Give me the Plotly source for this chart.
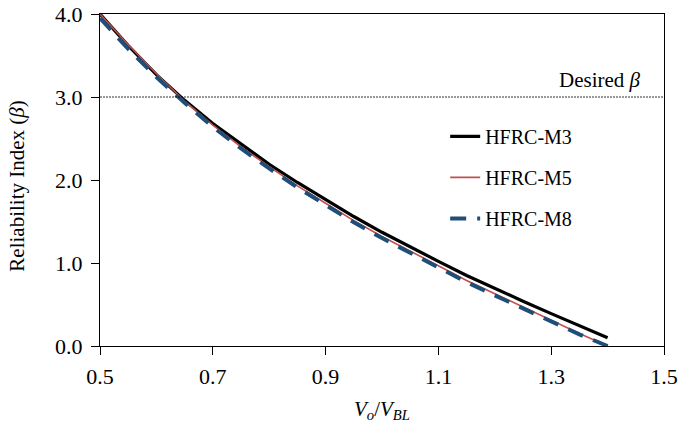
import plotly.graph_objects as go

x = [0.5, 0.55, 0.6, 0.65, 0.7, 0.75, 0.8, 0.85, 0.9, 0.95, 1.0, 1.05, 1.1, 1.15, 1.2, 1.25, 1.3, 1.35, 1.4]
m3 = [4.0, 3.62, 3.27, 2.96, 2.68, 2.43, 2.19, 1.97, 1.76, 1.56, 1.37, 1.19, 1.02, 0.85, 0.69, 0.54, 0.39, 0.24, 0.10]
m5 = [4.0, 3.63, 3.28, 2.95, 2.66, 2.40, 2.16, 1.93, 1.72, 1.51, 1.32, 1.14, 0.96, 0.79, 0.63, 0.47, 0.31, 0.15, 0.0]
m8 = [3.95, 3.58, 3.24, 2.93, 2.64, 2.38, 2.14, 1.91, 1.70, 1.49, 1.30, 1.12, 0.94, 0.77, 0.61, 0.45, 0.29, 0.14, 0.0]
desired_beta = 3.0
x_range = [0.5, 1.5]
y_range = [0.0, 4.0]

FONT = "Times New Roman, Liberation Serif, DejaVu Serif, serif"

fig = go.Figure()
fig.add_trace(go.Scatter(x=x, y=m3, mode="lines", name="HFRC-M3", legendgroup="a",
                         line=dict(color="black", width=3.2)))
fig.add_trace(go.Scatter(x=x, y=m5, mode="lines", name="HFRC-M5", legendgroup="b",
                         line=dict(color="#C0504D", width=1.6)))
fig.add_trace(go.Scatter(x=x, y=m8, mode="lines", name="HFRC-M8", legendgroup="c",
                         line=dict(color="#1F4E79", width=4, dash="16px,11px")))
fig.add_trace(go.Scatter(x=x_range, y=[desired_beta, desired_beta], mode="lines",
                         showlegend=False, line=dict(color="black", width=0.8, dash="2px,1px")))

fig.add_annotation(x=1.462, y=desired_beta, xref="x", yref="y", xanchor="right", yanchor="bottom",
                   yshift=3, showarrow=False, text="Desired <i>β</i>",
                   font=dict(family=FONT, size=21, color="black"))

# axis titles
fig.add_annotation(x=0.5, y=0, xref="paper", yref="paper", xanchor="center", yanchor="middle",
                   yshift=-64, showarrow=False,
                   text="<i>V<sub>o</sub></i>/<i>V<sub>BL</sub></i>",
                   font=dict(family=FONT, size=21, color="black"))
fig.add_annotation(x=0, y=0.48, xref="paper", yref="paper", xanchor="center", yanchor="middle",
                   xshift=-83, textangle=-90, showarrow=False,
                   text="Reliability Index (<i>β</i>)",
                   font=dict(family=FONT, size=21, color="black"))

axis_common = dict(showline=True, linecolor="black", linewidth=1, mirror=True,
                   ticks="outside", ticklen=8, tickcolor="black", tickwidth=1,
                   showgrid=False, zeroline=False, automargin=False,
                   ticklabeloverflow="allow",
                   tickfont=dict(family=FONT, size=22, color="black"))

fig.update_xaxes(range=x_range, dtick=0.2, tick0=0.5, tickformat=".1f",
                 ticklabelstandoff=3, **axis_common)
fig.update_yaxes(range=y_range, dtick=1, tickformat=".1f",
                 ticklabelstandoff=4, **axis_common)

fig.update_layout(
    width=685, height=430,
    margin=dict(l=100, r=21, t=14, b=84),
    paper_bgcolor="white", plot_bgcolor="white",
    showlegend=True,
    legend=dict(x=0.612, y=0.69, xanchor="left", yanchor="top",
                bgcolor="rgba(0,0,0,0)", tracegroupgap=12,
                font=dict(family=FONT, size=20, color="black")),
)

fig.write_html("out.html", config={"displayModeBar": False},
               post_script="document.body.style.margin='0';")
